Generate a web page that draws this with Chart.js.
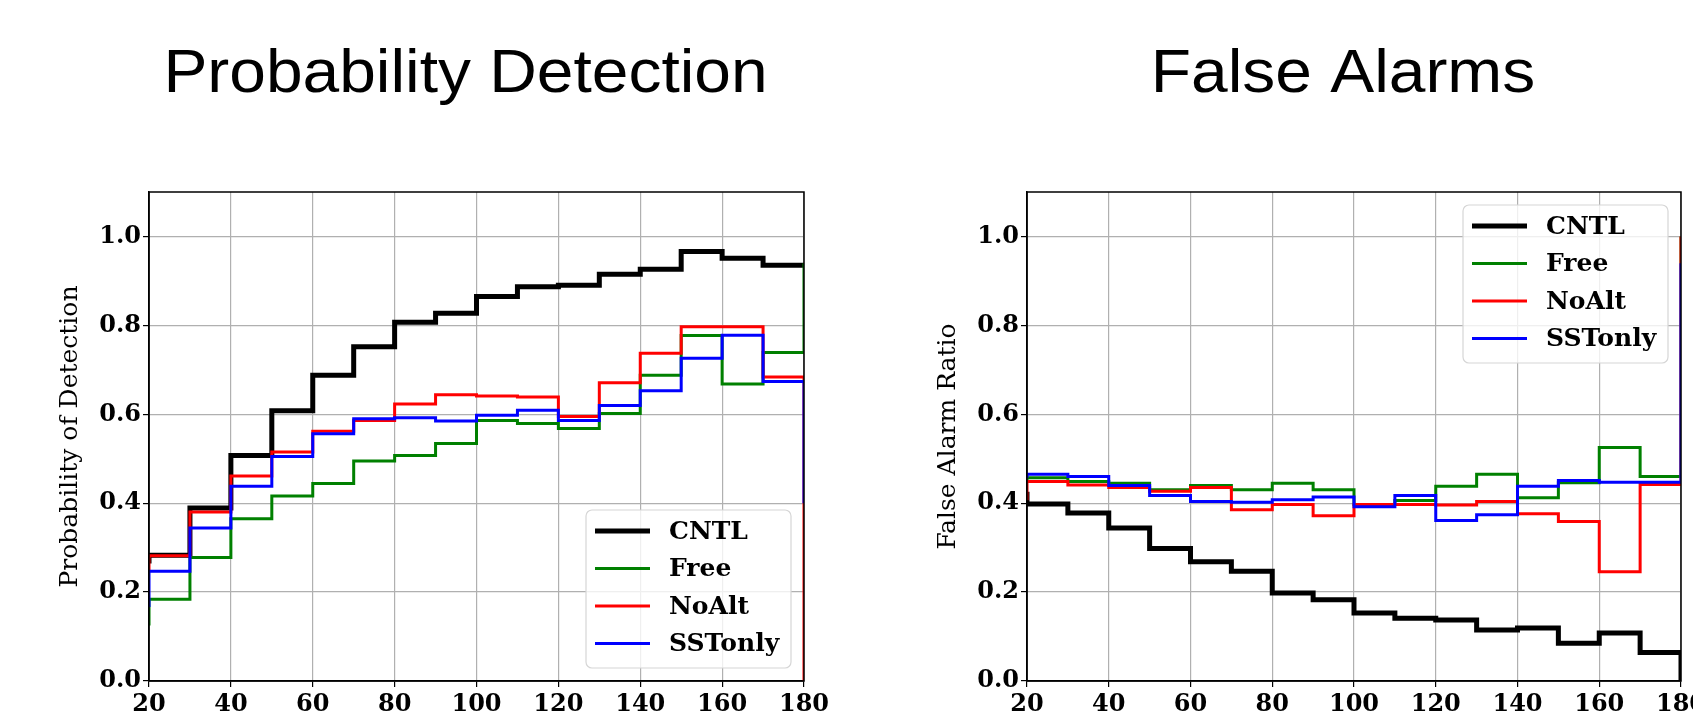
<!DOCTYPE html>
<html>
<head>
<meta charset="utf-8">
<script src="https://cdn.jsdelivr.net/npm/chart.js@4.4.1/dist/chart.umd.min.js"></script>
<style>
    html, body { margin: 0; padding: 0; background: #fff; overflow: hidden; }
    body { width: 1693px; height: 724px; position: relative; }
    canvas { position: absolute; top: 0; }
    #podChart { left: 0; }
    #farChart { left: 878px; }
</style>
</head>
<body>
<canvas id="podChart" width="870" height="724"></canvas>
<canvas id="farChart" width="842" height="724"></canvas>
<script>
// Bin edges: 10 sits left of the axis, 180 is the right edge
const binEdges = [10, 20, 30, 40, 50, 60, 70, 80, 90, 100, 110, 120, 130, 140, 150, 160, 170, 180];
const xTicks = [20, 40, 60, 80, 100, 120, 140, 160, 180];
const yTicks = [0.0, 0.2, 0.4, 0.6, 0.8, 1.0];

const seriesNames = ['CNTL', 'Free', 'NoAlt', 'SSTonly'];
const seriesColors = ['#000000', '#008000', '#ff0000', '#0000ff'];
const seriesWidths = [5, 3, 3, 3];

// Probability of Detection
const podCNTL    = [0.27, 0.283, 0.389, 0.507, 0.608, 0.688, 0.752, 0.807, 0.827, 0.865, 0.887, 0.890, 0.915, 0.926, 0.966, 0.951, 0.935, 0.935];
const podFree    = [0.128, 0.184, 0.278, 0.365, 0.416, 0.444, 0.495, 0.507, 0.534, 0.586, 0.579, 0.568, 0.602, 0.688, 0.777, 0.668, 0.739, 0.940];
const podNoAlt   = [0.25, 0.282, 0.380, 0.461, 0.515, 0.562, 0.586, 0.623, 0.644, 0.641, 0.639, 0.595, 0.671, 0.737, 0.797, 0.797, 0.684, 0.0];
const podSSTonly = [0.17, 0.247, 0.344, 0.438, 0.505, 0.556, 0.590, 0.592, 0.585, 0.598, 0.609, 0.586, 0.620, 0.653, 0.726, 0.778, 0.674, 0.40];

// False Alarm Ratio
const farCNTL    = [0.42, 0.398, 0.378, 0.344, 0.298, 0.268, 0.247, 0.198, 0.183, 0.153, 0.141, 0.137, 0.115, 0.119, 0.085, 0.108, 0.064, 0.0];
const farFree    = [0.45, 0.457, 0.449, 0.445, 0.430, 0.440, 0.430, 0.445, 0.430, 0.397, 0.406, 0.438, 0.465, 0.412, 0.446, 0.525, 0.460, 1.0];
const farNoAlt   = [0.41, 0.449, 0.441, 0.435, 0.427, 0.435, 0.385, 0.397, 0.372, 0.397, 0.397, 0.396, 0.404, 0.376, 0.359, 0.246, 0.442, 1.0];
const farSSTonly = [0.46, 0.465, 0.460, 0.440, 0.417, 0.404, 0.402, 0.408, 0.414, 0.392, 0.417, 0.361, 0.374, 0.438, 0.451, 0.447, 0.447, 0.94];

const serifFont = '"DejaVu Serif", "Liberation Serif", serif';

// moldura preta em volta da área do gráfico
const framePlugin = {
    id: 'frame',
    afterDatasetsDraw(chart) {
        const { ctx, chartArea: a } = chart;
        ctx.save();
        ctx.strokeStyle = '#000';
        ctx.lineWidth = 1.5;
        ctx.strokeRect(a.left, a.top, a.right - a.left, a.bottom - a.top);
        ctx.restore();
    }
};

// título grande, um pouco à esquerda do centro da área
const panelTitle = {
    id: 'panelTitle',
    afterDraw(chart, args, opts) {
        const { ctx, chartArea: a } = chart;
        ctx.save();
        ctx.font = '61px "Liberation Sans", Arial, sans-serif';
        ctx.fillStyle = '#000';
        ctx.textAlign = 'center';
        ctx.textBaseline = 'alphabetic';
        ctx.translate((a.left + a.right) / 2 + opts.dx, 92);
        ctx.scale(1.08, 1);
        ctx.fillText(opts.text, 0, 0);
        ctx.restore();
    }
};

// legenda em caixa dentro da área do gráfico
const boxLegend = {
    id: 'boxLegend',
    afterDraw(chart, args, opts) {
        const { ctx, chartArea: a } = chart;
        const w = 205, h = 158, gap = 13;
        const x = a.right - gap - w;
        const y = opts.corner === 'top' ? a.top + gap : a.bottom - gap - h;
        ctx.save();
        ctx.beginPath();
        ctx.roundRect(x, y, w, h, 6);
        ctx.fillStyle = 'rgba(255,255,255,0.8)';
        ctx.fill();
        ctx.strokeStyle = '#d6d6d6';
        ctx.lineWidth = 1.2;
        ctx.stroke();
        ctx.font = 'bold 25px ' + serifFont;
        ctx.textBaseline = 'middle';
        chart.data.datasets.forEach(function(ds, i) {
            const cy = y + 21 + i * 37.5;
            ctx.beginPath();
            ctx.moveTo(x + 9, cy);
            ctx.lineTo(x + 64, cy);
            ctx.strokeStyle = ds.borderColor;
            ctx.lineWidth = ds.borderWidth;
            ctx.stroke();
            ctx.fillStyle = '#000';
            ctx.fillText(ds.label, x + 83, cy + 1);
        });
        ctx.restore();
    }
};

function buildDatasets(seriesList) {
    return seriesList.map(function(values, i) {
        return {
            label: seriesNames[i],
            data: binEdges.map(function(x, j) { return { x: x, y: values[j] }; }),
            borderColor: seriesColors[i],
            backgroundColor: seriesColors[i],
            borderWidth: seriesWidths[i],
            stepped: 'before',
            pointRadius: 0,
            fill: false,
            clip: 0,
            order: 4 - i
        };
    });
}

function buildOptions(titleText, yTitle, padRight, legendCorner) {
    return {
        responsive: false,
        animation: false,
        layout: { padding: { left: 0, right: padRight, top: 192, bottom: 0 } },
        scales: {
            x: {
                type: 'linear',
                min: 20,
                max: 180,
                afterFit: function(s) { s.height = 43; },
                afterBuildTicks: function(s) { s.ticks = xTicks.map(function(v) { return { value: v }; }); },
                grid: { color: '#b0b0b0', lineWidth: 1.2, tickLength: 6, tickColor: '#000', tickWidth: 1.2 },
                border: { display: true, color: '#000', width: 1.5 },
                ticks: {
                    color: '#000',
                    padding: 3,
                    maxRotation: 0,
                    font: { family: serifFont, size: 24, weight: 'bold' },
                    callback: function(v) { return String(v); }
                }
            },
            y: {
                min: 0,
                max: 1.1,
                afterFit: function(s) { s.width = 149; },
                afterBuildTicks: function(s) { s.ticks = yTicks.map(function(v) { return { value: v }; }); },
                grid: { color: '#b0b0b0', lineWidth: 1.2, tickLength: 6, tickColor: '#000', tickWidth: 1.2 },
                border: { display: true, color: '#000', width: 1.5 },
                title: {
                    display: true,
                    text: yTitle,
                    color: '#000',
                    font: { family: serifFont, size: 25, weight: 'normal' },
                    padding: { top: 55, bottom: 0 }
                },
                ticks: {
                    color: '#000',
                    padding: 2,
                    font: { family: serifFont, size: 24, weight: 'bold' },
                    callback: function(v) { return Number(v).toFixed(1); }
                }
            }
        },
        plugins: {
            legend: { display: false },
            tooltip: { enabled: false },
            title: { display: false },
            panelTitle: { text: titleText, dx: -11 },
            boxLegend: { corner: legendCorner }
        }
    };
}

document.addEventListener('DOMContentLoaded', function() {
    new Chart(document.getElementById('podChart').getContext('2d'), {
        type: 'line',
        data: { datasets: buildDatasets([podCNTL, podFree, podNoAlt, podSSTonly]) },
        options: buildOptions('Probability Detection', 'Probability of Detection', 66, 'bottom'),
        plugins: [framePlugin, boxLegend, panelTitle]
    });

    new Chart(document.getElementById('farChart').getContext('2d'), {
        type: 'line',
        data: { datasets: buildDatasets([farCNTL, farFree, farNoAlt, farSSTonly]) },
        options: buildOptions('False Alarms', 'False Alarm Ratio', 39, 'top'),
        plugins: [framePlugin, boxLegend, panelTitle]
    });
});
</script>
</body>
</html>
